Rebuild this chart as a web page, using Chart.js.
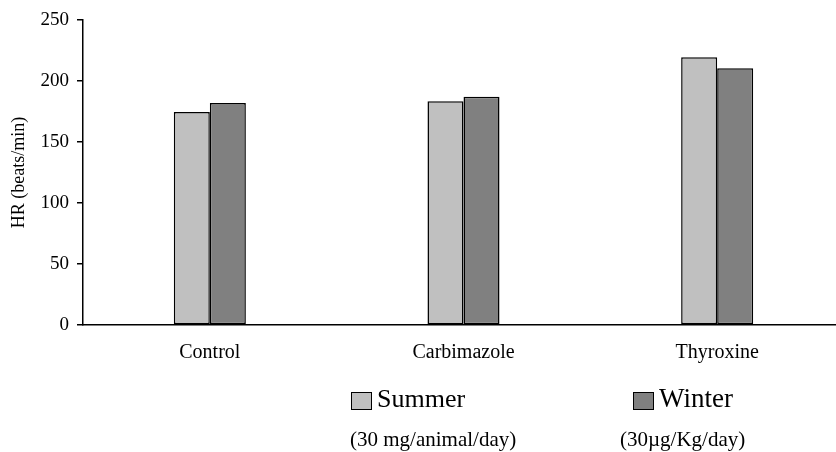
<!DOCTYPE html>
<html>
<head>
<meta charset="utf-8">
<script src="https://cdn.jsdelivr.net/npm/chart.js@4"></script>
<style>
	body { margin: 0; background: #fff; }
	#wrap { position: relative; width: 836px; height: 452px; overflow: hidden; }
	#chart-box { position: absolute; left: 0; top: 0; width: 846px; height: 452px; }
	.lg { position: absolute; font-family: "Liberation Serif", "Times New Roman", serif; color: #000; white-space: nowrap; }
	.sw { position: absolute; width: 19px; height: 16px; border: 1.5px solid #000; }
</style>
</head>
<body>
<div id="wrap">
	<div id="chart-box"><canvas id="hr-chart" width="846" height="452"></canvas></div>
	<div class="sw" style="left:351px;top:392px;background:#c0c0c0"></div>
	<div class="lg" style="left:377px;top:384px;font-size:26px">Summer</div>
	<div class="lg" style="left:350px;top:427px;font-size:21px">(30 mg/animal/day)</div>
	<div class="sw" style="left:633px;top:392px;background:#808080"></div>
	<div class="lg" style="left:659px;top:383px;font-size:27px">Winter</div>
	<div class="lg" style="left:620px;top:427px;font-size:21px">(30µg/Kg/day)</div>
</div>
<script>
const groups = ['Control', 'Carbimazole', 'Thyroxine'];
const summer = [174.5, 183.5, 219.5];
const winter = [182, 187, 210.5];
const yTicks = [0, 50, 100, 150, 200, 250];

const serif = 'Liberation Serif';

const ctx = document.getElementById('hr-chart').getContext('2d');
new Chart(ctx, {
	type: 'bar',
	data: {
		labels: groups,
		datasets: [
			{ label: 'Summer', data: summer, backgroundColor: '#c0c0c0', borderColor: '#000', borderWidth: 1.5, borderSkipped: false },
			{ label: 'Winter', data: winter, backgroundColor: '#808080', borderColor: '#000', borderWidth: 1.5, borderSkipped: false }
		]
	},
	options: {
		responsive: false,
		animation: false,
		devicePixelRatio: 1,
		categoryPercentage: 0.284,
		barPercentage: 1,
		layout: { padding: { top: 20, right: 2, left: 0, bottom: 0 } },
		plugins: { legend: { display: false }, tooltip: { enabled: false } },
		scales: {
			x: {
				grid: { display: false },
				border: { color: '#000', width: 1.5 },
				ticks: { color: '#000', font: { family: serif, size: 20 }, padding: 8 },
				afterFit: (s) => { s.height = 127; }
			},
			y: {
				min: 0,
				max: 250,
				afterBuildTicks: (s) => { s.ticks = yTicks.map(v => ({ value: v })); },
				grid: { drawOnChartArea: false, drawTicks: true, tickLength: 6, color: '#000', lineWidth: 1.5 },
				border: { color: '#000', width: 1.5 },
				ticks: { color: '#000', font: { family: serif, size: 19 }, padding: 8 },
				title: { display: true, text: 'HR (beats/min)', color: '#000', font: { family: serif, size: 18 }, padding: { top: 8, bottom: 0 } },
				afterFit: (s) => { s.width = 83; }
			}
		}
	}
});
</script>
</body>
</html>
